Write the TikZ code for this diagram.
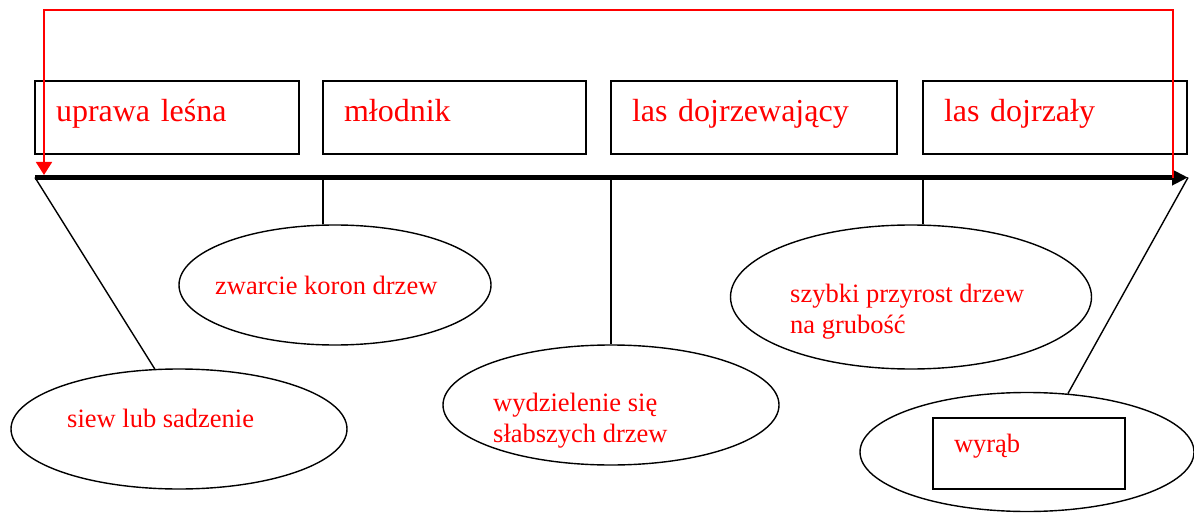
\documentclass[tikz,border=0pt]{standalone}
\usepackage{fontspec}
\setmainfont{Liberation Serif}
\usetikzlibrary{shapes.geometric}
\usetikzlibrary{positioning}
\usetikzlibrary{arrows.meta}
\tikzset{node distance=24pt,
    phase/.style={
        draw,
        line width=1.4pt,
        outer sep=0pt,
        text width=#1,
        inner xsep=21pt,
        minimum height=73pt,
        align=left,
        text height=20pt,
        text depth=11pt,
        text=red,
        font=\fontsize{32}{38}\selectfont},
    event/.style={
        draw,
        ellipse,
        line width=1.4pt,
        inner sep=0pt},
    evtext/.style={
        anchor=base west,
        inner sep=0pt,
        align=left,
        text=red,
        font=\fontsize{26.5}{31}\selectfont},
    link/.style={
        draw,
        line width=1.4pt}}

\begin{document}
\begin{tikzpicture}[x=1pt,y=-1pt]
        \useasboundingbox (0,0) rectangle (1194,513);

        % stages
        \node[phase=222pt,anchor=north west] (b1) at (35,81) {uprawa leśna};
        \node[phase=221pt,right=of b1] (b2) {młodnik};
        \node[phase=244pt,right=25pt of b2] (b3) {las dojrzewający};
        \node[phase=222pt,right=26pt of b3] (b4) {las dojrzały};

        % events
        \node[event,minimum width=336pt,minimum height=120pt] (e1) at (179,429) {};
        \node[event,minimum width=312pt,minimum height=120pt] (e2) at (335,285) {};
        \node[event,minimum width=336pt,minimum height=120pt] (e3) at (611,405) {};
        \node[event,minimum width=361pt,minimum height=144pt] (e4) at (911,297) {};
        \node[event,minimum width=334pt,minimum height=119pt] (e5) at (1027,452) {};

        \node[evtext] (t1) at (67,427) {siew lub sadzenie};
        \node[evtext] (t2) at (215,294) {zwarcie koron drzew};
        \node[evtext] (t3) at (493,442) {wydzielenie się\\słabszych drzew};
        \node[evtext] (t4) at (790,333) {szybki przyrost drzew\\na grubość};
        \node[phase=150pt,minimum height=71pt,text height=15pt,text depth=18pt,
            font=\fontsize{26.5}{31}\selectfont] (t5) at (1029,453.5) {wyrąb};

        % time axis
        \coordinate (start) at (35,177.5);
        \coordinate (end) at (1188,177.5);
        \draw[line width=5pt,-{Triangle[length=16pt,width=15pt]}] (start) -- (end);

        \draw[link] (start) -- (e1.112);
        \draw[link] (b2.west |- start) -- (b2.west |- e2.north);
        \draw[link] (b3.west |- start) -- (b3.west |- e3.north);
        \draw[link] (b4.west |- start) -- (b4.west |- e4.north);
        \draw[link] (end) -- (e5.55);

        % loop back
        \coordinate (top) at (0,10);
        \coordinate (r0) at (44,175);
        \coordinate (r1) at (1173,178);
        \draw[red,line width=1.6pt,-{Triangle[length=13pt,width=16pt]}]
            (r1) -- (r1 |- top) -| (r0);
    \end{tikzpicture}
\end{document}
